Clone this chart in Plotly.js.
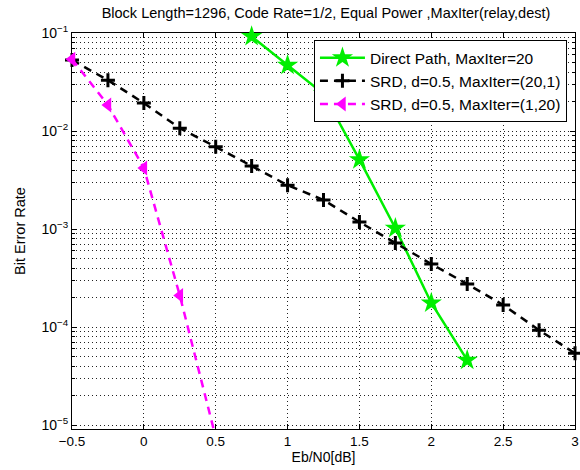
<!DOCTYPE html>
<html><head><meta charset="utf-8">
<script src="https://cdn.plot.ly/plotly-3.0.1.min.js"></script>
<style>html,body{margin:0;padding:0;background:#fff}#chart{width:580px;height:470px}</style>
</head><body><div id="chart"></div>
<script>
// Data
const directX = [0.75, 1.0, 1.25, 1.5, 1.75, 2.0, 2.25];
const directBER = [0.092, 0.047, 0.024, 0.0051, 0.00102, 0.000176, 0.000046];

const srd201X = [-0.5, -0.25, 0, 0.25, 0.5, 0.75, 1.0, 1.25, 1.5, 1.75, 2.0, 2.25, 2.5, 2.75, 3.0];
const srd201BER = [0.053, 0.033, 0.0193, 0.0107, 0.0069, 0.0044, 0.0028, 0.00198, 0.00118, 0.00072, 0.00044, 0.000275, 0.000168, 0.000093, 0.000054];

const srd120X = [-0.5, -0.25, 0, 0.25, 0.5];
const srd120BER = [0.054, 0.0184, 0.0042, 0.00021, 0.0000075];

const seriesNames = ['Direct Path, MaxIter=20', 'SRD, d=0.5, MaxIter=(20,1)', 'SRD, d=0.5, MaxIter=(1,20)'];
const titleText = 'Block Length=1296, Code Rate=1/2, Equal Power ,MaxIter(relay,dest)';
const xTicks = [-0.5, 0, 0.5, 1, 1.5, 2, 2.5, 3];
const xTickText = ['\u22120.5', '0', '0.5', '1', '1.5', '2', '2.5', '3'];
const yTicks = [1e-5, 1e-4, 1e-3, 1e-2, 1e-1];
const yTickText = ['10<sup>\u22125</sup>', '10<sup>\u22124</sup>', '10<sup>\u22123</sup>', '10<sup>\u22122</sup>', '10<sup>\u22121</sup>'];

const minorVals = [];
for (let e = -5; e <= -2; e++) for (let m = 2; m <= 9; m++) minorVals.push(m * Math.pow(10, e));

const font = 'Liberation Sans, Arial, sans-serif';
const gridDash = '1px,3px';

const traces = [
  {x: directX, y: directBER, name: seriesNames[0], type: 'scatter', mode: 'lines+markers', cliponaxis: false,
   line: {color: '#00ee00', width: 2.5},
   marker: {symbol: 'star', size: 16, color: '#00ee00', line: {width: 0}}},
  {x: srd201X, y: srd201BER, name: seriesNames[1], type: 'scatter', mode: 'lines+markers', cliponaxis: false,
   line: {color: '#000000', width: 2.5, dash: '8px,6px'},
   marker: {symbol: 'cross-thin', size: 10, color: '#000000', line: {width: 3, color: '#000000'}}},
  {x: srd120X, y: srd120BER, name: seriesNames[2], type: 'scatter', mode: 'lines+markers', cliponaxis: false,
   line: {color: '#ff00ff', width: 2.5, dash: '8px,6px'},
   marker: {symbol: 'triangle-left', size: 13, color: '#ff00ff', line: {width: 0}}}
];

const layout = {
  width: 580, height: 470,
  margin: {l: 72, r: 5, t: 33, b: 41},
  paper_bgcolor: '#ffffff', plot_bgcolor: '#ffffff',
  font: {family: font, size: 14, color: '#000'},
  title: {text: titleText, font: {family: font, size: 14.5, color: '#000'},
          x: 0.505, xanchor: 'center', y: 0.972, yanchor: 'middle', xref: 'paper', yref: 'container'},
  showlegend: true,
  legend: {x: 0.984, xanchor: 'right', y: 0.982, yanchor: 'top', bgcolor: '#ffffff',
           bordercolor: '#000', borderwidth: 1, font: {family: font, size: 15.5, color: '#000'},
           tracegroupgap: 0, itemwidth: 45},
  xaxis: {range: [-0.5, 3], tickmode: 'array', tickvals: xTicks, ticktext: xTickText,
          showline: true, linecolor: '#000', linewidth: 1, mirror: 'ticks', ticks: 'inside', ticklen: 5, tickcolor: '#000',
          showgrid: true, gridcolor: '#222', gridwidth: 1, griddash: gridDash, zeroline: false,
          tickfont: {family: font, size: 13.5}, layer: 'below traces',
          title: {text: 'Eb/N0[dB]', font: {family: font, size: 14}, standoff: 2}},
  yaxis: {type: 'log', range: [-5.04, -1], tickmode: 'array', tickvals: yTicks, ticktext: yTickText,
          showline: true, linecolor: '#000', linewidth: 1, mirror: 'ticks', ticks: 'inside', ticklen: 5, tickcolor: '#000',
          showgrid: true, gridcolor: '#222', gridwidth: 1, griddash: gridDash, zeroline: false,
          tickfont: {family: font, size: 14}, layer: 'below traces',
          minor: {tickmode: 'array', tickvals: minorVals, ticks: 'inside', ticklen: 3, tickcolor: '#000',
                  showgrid: true, gridcolor: '#222', gridwidth: 1, griddash: gridDash},
          title: {text: 'Bit Error Rate', font: {family: font, size: 14.5}, standoff: 12}}
};

Plotly.newPlot('chart', traces, layout, {displayModeBar: false, staticPlot: true});
</script>
</body></html>
